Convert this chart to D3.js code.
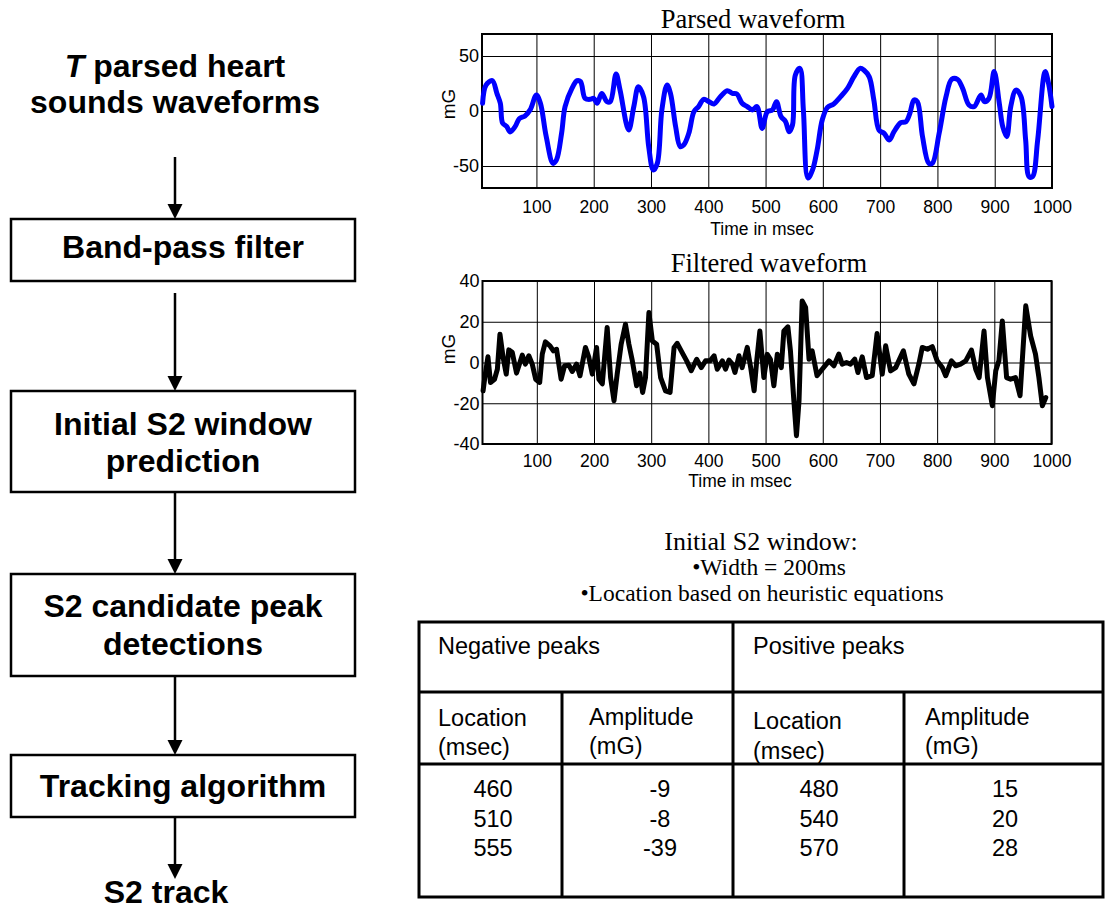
<!DOCTYPE html>
<html>
<head>
<meta charset="utf-8">
<script src="https://cdn.jsdelivr.net/npm/d3@7"></script>
<style>
  body { margin: 0; background: #fff; }
  .sans { font-family: "Liberation Sans", Arial, sans-serif; }
  .serif { font-family: "Liberation Serif", "Times New Roman", serif; }
  .grid line { stroke: #000; stroke-width: 1; }
  .grid path { display: none; }
</style>
</head>
<body>
<div id="chart"></div>
<script>
// ---- data ----
var xTickValues = [100, 200, 300, 400, 500, 600, 700, 800, 900, 1000]
var parsedTicks = [-50, 0, 50]
var filteredTicks = [-40, -20, 0, 20, 40]

var parsedTime = [6, 12, 23, 31, 37, 41, 48, 54, 63, 70, 80, 89, 100, 107, 117, 129, 135, 144, 150, 162, 171, 177, 185, 194, 200,
  206, 214, 223, 229, 239, 246, 261, 270, 278, 287, 296, 304, 311, 319, 328, 334, 343, 351, 357, 366, 375, 383, 392, 401, 410,
  421, 433, 442, 450, 459, 468, 477, 485, 494, 503, 512, 519, 527, 535, 541, 547, 552, 560, 566, 574, 582, 590, 599, 608, 619,
  631, 643, 654, 665, 672, 681, 689, 698, 707, 716, 724, 736, 745, 752, 759, 765, 774, 785, 791, 803, 815, 825, 835, 844, 855,
  864, 876, 882, 890, 899, 908, 914, 921, 928, 937, 946, 954, 960, 966, 975, 988, 994, 1000]
var parsedValue = [7, 23.6, 27.6, 16, 7, -11, -14, -19, -14, -7, -4.5, 1, 14.5, 7, -23, -47.6, -44.5, -20, 4, 20.6, 27.6, 26.7, 11.5, 10.6, 11.5,
  7, 16, 8.5, 8.5, 33.6, 19, -17.3, 4, 22, 13, -32.4, -53.6, -47.6, 1, 23.6, 16, -14.2, -32.4, -31, -20.3, -0.6, 4, 10.6, 8.5, 6.4,
  13, 18.5, 16, 15.4, 7, 4, 1, 4, -15.8, -0.6, 1, 8.5, -5, -9.7, -18.8, -12.7, 32.7, 38.8, 1, -61, -53.6, -35.5, -8, 3.3, 6.4,
  13, 20.6, 31, 38.8, 37, 31, 10, -17.3, -20.3, -26.4, -19, -10.6, -9.7, -2, 10, 8.5, -23.3, -47.6, -47.6, -20.3, 13, 28.8, 28.8, 20.6, 5.5,
  4, 14.5, 8.5, 11.5, 35.8, 7, -14.2, -23.3, 4, 19, 13, -26.4, -59.7, -59.7, -26.4, 35.8, 25, 4]

var filteredTime = [6, 9, 14.5, 19, 26, 31, 35.5, 41, 46.5, 51, 57, 64.5, 74.5, 80, 86, 92, 98, 105, 109.5, 115, 123, 129, 134.5, 142.5,
  148.5, 156, 162, 169.5, 175.5, 185, 191, 197, 204.5, 208.5, 214.5, 223, 229, 235, 240.5, 247.5, 255, 261, 267, 274.5, 280, 285,
  290, 296, 302, 309.5, 316.5, 325, 333, 340, 345.5, 352.5, 362, 370, 379.5, 387.5, 395, 403, 410, 415.5, 424.5, 430, 436, 442,
  446.5, 453.5, 459, 468, 474, 480, 484.5, 490, 497, 503, 508.5, 514.5, 520.5, 527.5, 532, 539, 543.5, 549.5, 554, 558.5, 564,
  570, 576, 581.5, 590, 599, 611, 619.5, 628, 634, 641.5, 648.5, 656, 661.5, 669, 676.5, 686.5, 695, 704, 710, 718.5, 727.5, 741,
  750.5, 759.5, 768, 774, 783, 791.5, 800, 809, 815, 825, 832.5, 841, 850, 860, 867.5, 873.5, 882, 888, 896.5, 902.5, 908, 914,
  921.5, 928.5, 937, 945, 955, 963.5, 972, 978, 984, 990]
var filteredValue = [-13.9, -7.4, 2.8, -9.8, -8.2, -3.3, 13.9, 2.5, -5.7, 6.2, 5, -5.2, 3.6, -0.8, 3.3, -0.8, -8.2, -9.8, 4.1, 10.1, 8.2, 5.7, 6.5, -8.2,
  -1.6, -1.3, -4.4, -0.8, -6.5, 7.4, 2.5, -5.7, 7.4, -8.2, -10.5, 17.2, -7.4, -18.8, -5.7, 9, 18.8, 9, 0.8, -11.4, -5.2, -14.7,
  -7.4, 24.5, 10.6, 9, -7.4, -13.9, -14.7, 7.4, 9.4, 5.7, 0.8, -4, 1.6, -2.5, 0.8, 0.8, 3.3, -3.3, 0.8, -3.3, 1.2, -0.8,
  -4.9, 3.3, -2.5, 7.4, -2.5, -13.9, 0.8, 15.5, -7.4, 4, 1.6, -11.4, 4.1, -2.5, 15.5, 17.5, 5.7, -18.8, -35.9, -18.8, 30.2,
  27, 1.6, 5.7, -6.5, -3.3, 0.8, -1.6, 4.1, -0.8, 0, -0.8, 1.6, -4.9, 2.8, -7.4, -6.5, 14.2, -5.7, 8.2, -4.1, -2.5, 5.7,
  -5.7, -10.5, -0.8, 7.4, 6.5, 7.8, 0.8, -2.5, -6.5, 0.8, -1.6, -0.8, 0.8, 6.1, -3.3, -7.4, 15.5, -7.4, -21.2, -4.1, 0.8, 20.4,
  -7.4, -8.2, -7.4, -16.3, 27.8, 13.1, 4.1, -7.4, -21.2, -17.2]

var flowTitle = ["T", " parsed heart", "sounds waveforms"]
var flowSteps = [["Band-pass filter"], ["Initial S2 window", "prediction"], ["S2 candidate peak", "detections"], ["Tracking algorithm"]]
var flowEnd = "S2 track"

var windowNotes = ["Initial S2 window:", "\u2022Width =  200ms", "\u2022Location based on heuristic equations"]
var negLocations = [460, 510, 555]
var negAmplitudes = [-9, -8, -39]
var posLocations = [480, 540, 570]
var posAmplitudes = [15, 20, 28]

var W = 1106, H = 911

var svg = d3.select('#chart').append('svg')
    .attr('width', W)
    .attr('height', H)

svg.append('rect').attr('width', W).attr('height', H).attr('fill', '#fff')

// plain labels: no thousands comma, ascii hyphen for minus
var plain = function(d) { return String(d) }

// ---- waveform panels ----
function drawWave(o) {
  var x = d3.scaleLinear().domain([5, 1000]).range([o.left, o.right]),
      y = d3.scaleLinear().domain(o.yDomain).range([o.bottom, o.top])
  var g = svg.append('g')

  g.append('g')
      .attr('class', 'grid sans')
      .attr('transform', 'translate(0,' + o.bottom + ')')
      .call(d3.axisBottom(x).tickValues(xTickValues).tickFormat(plain).tickSize(-(o.bottom - o.top)).tickPadding(o.xPad))
      .call(function(s) { s.selectAll('text').attr('font-size', 17.5).attr('fill', '#000').attr('font-family', null) })

  g.append('g')
      .attr('class', 'grid sans')
      .attr('transform', 'translate(' + o.left + ',0)')
      .call(d3.axisLeft(y).tickValues(o.yTicks).tickFormat(plain).tickSize(-(o.right - o.left)).tickPadding(3))
      .call(function(s) { s.selectAll('text').attr('font-size', 18).attr('fill', '#000').attr('font-family', null) })

  g.append('rect')
      .attr('x', o.left).attr('y', o.top)
      .attr('width', o.right - o.left).attr('height', o.bottom - o.top)
      .attr('fill', 'none').attr('stroke', '#000').attr('stroke-width', 2)

  var line = d3.line()
      .x(function(d) { return x(d[0]) })
      .y(function(d) { return y(d[1]) })
      .curve(o.curve)

  g.append('path')
      .datum(d3.zip(o.time, o.value))
      .attr('d', line)
      .attr('fill', 'none')
      .attr('stroke', o.color)
      .attr('stroke-width', 5)
      .attr('stroke-linejoin', 'round')
      .attr('stroke-linecap', 'round')

  g.append('text').attr('class', 'serif')
      .attr('x', o.titleX).attr('y', o.titleY)
      .attr('text-anchor', 'middle').attr('font-size', 26.5)
      .text(o.title)

  g.append('text').attr('class', 'sans')
      .attr('x', o.labelX).attr('y', o.labelY)
      .attr('text-anchor', 'middle').attr('font-size', 17.5)
      .text('Time in msec')

  g.append('text').attr('class', 'sans')
      .attr('transform', 'translate(455,' + o.mgY + ') rotate(-90)')
      .attr('text-anchor', 'middle').attr('font-size', 19)
      .text('mG')
}

drawWave({ time: parsedTime, value: parsedValue, yDomain: [-70, 70], yTicks: parsedTicks,
  left: 482, right: 1052, top: 34, bottom: 188, xPad: 12.5, color: '#0000ff',
  curve: d3.curveCatmullRom.alpha(0.5),
  title: 'Parsed waveform', titleX: 753, titleY: 28, labelX: 762, labelY: 235, mgY: 104 })

drawWave({ time: filteredTime, value: filteredValue, yDomain: [-40, 40], yTicks: filteredTicks,
  left: 482.5, right: 1051.5, top: 281, bottom: 444, xPad: 10.5, color: '#000',
  curve: d3.curveLinear,
  title: 'Filtered waveform', titleX: 769, titleY: 272, labelX: 740, labelY: 487, mgY: 349 })

// ---- flow chart ----
var flow = svg.append('g').attr('class', 'sans').attr('font-weight', 'bold').attr('font-size', 32)
var arrowX = 175
var boxes = [[219, 281], [391, 492], [574, 676], [755, 817]]
var boxBase = [[258], [435, 472], [617, 655], [797]]

var t0 = flow.append('text').attr('x', 175).attr('y', 77).attr('text-anchor', 'middle')
t0.append('tspan').attr('font-style', 'italic').text(flowTitle[0])
t0.append('tspan').text(flowTitle[1])
flow.append('text').attr('x', 175).attr('y', 113).attr('text-anchor', 'middle').text(flowTitle[2])

flowSteps.forEach(function(lines, i) {
  flow.append('rect')
      .attr('x', 11).attr('y', boxes[i][0])
      .attr('width', 344).attr('height', boxes[i][1] - boxes[i][0])
      .attr('fill', 'none').attr('stroke', '#000').attr('stroke-width', 2.5)
  lines.forEach(function(l, j) {
    flow.append('text').attr('x', 183).attr('y', boxBase[i][j]).attr('text-anchor', 'middle').text(l)
  })
})
flow.append('text').attr('x', 166).attr('y', 903).attr('text-anchor', 'middle').text(flowEnd)

var arrows = [[157, 219], [293, 391], [492, 574], [676, 755], [817, 879]]
arrows.forEach(function(a) {
  flow.append('line')
      .attr('x1', arrowX).attr('x2', arrowX).attr('y1', a[0]).attr('y2', a[1] - 12)
      .attr('stroke', '#000').attr('stroke-width', 2.5)
  flow.append('path')
      .attr('d', 'M' + (arrowX - 7.5) + ',' + (a[1] - 15) + 'L' + (arrowX + 7.5) + ',' + (a[1] - 15) + 'L' + arrowX + ',' + a[1] + 'Z')
      .attr('fill', '#000')
})

// ---- window notes ----
var notes = svg.append('g').attr('class', 'serif').attr('text-anchor', 'middle')
notes.append('text').attr('x', 761).attr('y', 550).attr('font-size', 26).text(windowNotes[0])
notes.append('text').attr('x', 769).attr('y', 575).attr('font-size', 23.5).text(windowNotes[1])
notes.append('text').attr('x', 762).attr('y', 601).attr('font-size', 23.5).text(windowNotes[2])

// ---- peaks table ----
var tb = svg.append('g').attr('class', 'sans').attr('font-size', 23.5)
var tl = 419, tr = 1103, tt = 622, tbm = 897
function rule(x1, y1, x2, y2) {
  tb.append('line').attr('x1', x1).attr('y1', y1).attr('x2', x2).attr('y2', y2)
    .attr('stroke', '#000').attr('stroke-width', 3)
}
tb.append('rect').attr('x', tl).attr('y', tt).attr('width', tr - tl).attr('height', tbm - tt)
  .attr('fill', 'none').attr('stroke', '#000').attr('stroke-width', 3)
rule(tl, 692, tr, 692)
rule(tl, 764, tr, 764)
rule(733, tt, 733, tbm)
rule(562, 692, 562, tbm)
rule(904, 692, 904, tbm)

tb.append('text').attr('x', 438).attr('y', 654).text('Negative peaks')
tb.append('text').attr('x', 753).attr('y', 654).text('Positive peaks')
tb.append('text').attr('x', 438).attr('y', 726).text('Location')
tb.append('text').attr('x', 438).attr('y', 755).text('(msec)')
tb.append('text').attr('x', 589).attr('y', 725).text('Amplitude')
tb.append('text').attr('x', 589).attr('y', 754).text('(mG)')
tb.append('text').attr('x', 753).attr('y', 729).text('Location')
tb.append('text').attr('x', 753).attr('y', 759).text('(msec)')
tb.append('text').attr('x', 925).attr('y', 725).text('Amplitude')
tb.append('text').attr('x', 925).attr('y', 754).text('(mG)')

var rowY = d3.scaleLinear().domain([0, 2]).range([797, 856])
function column(vals, cx) {
  tb.selectAll(null).data(vals).enter().append('text')
      .attr('x', cx).attr('y', function(d, i) { return rowY(i) })
      .attr('text-anchor', 'middle')
      .text(function(d) { return d })
}
column(negLocations, 493)
column(negAmplitudes, 660)
column(posLocations, 819)
column(posAmplitudes, 1005)
</script>
</body>
</html>
